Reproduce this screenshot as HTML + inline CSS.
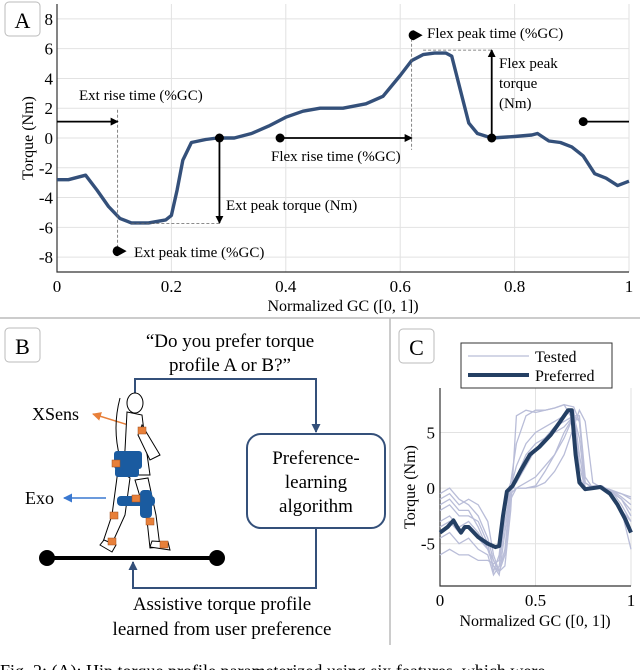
<!DOCTYPE html>
<html><head><meta charset="utf-8">
<style>
html,body{margin:0;padding:0;background:#fff;}
svg{display:block;font-family:"Liberation Serif",serif;}
</style></head>
<body>
<svg id="fig" width="640" height="670" viewBox="0 0 640 670" xmlns="http://www.w3.org/2000/svg">
<defs>
<marker id="ah" markerWidth="8" markerHeight="8" refX="7" refY="4" orient="auto" markerUnits="userSpaceOnUse"><path d="M0,0 L8,4 L0,8 z" fill="#000"/></marker>
<marker id="ahb" markerWidth="9" markerHeight="9" refX="8" refY="4.5" orient="auto" markerUnits="userSpaceOnUse"><path d="M0,0 L9,4.5 L0,9 z" fill="#34507a"/></marker>
<marker id="aho" markerWidth="9" markerHeight="9" refX="8" refY="4.5" orient="auto" markerUnits="userSpaceOnUse"><path d="M0,0 L9,4.5 L0,9 z" fill="#e8803a"/></marker>
<marker id="ahl" markerWidth="9" markerHeight="9" refX="8" refY="4.5" orient="auto" markerUnits="userSpaceOnUse"><path d="M0,0 L9,4.5 L0,9 z" fill="#3a78d0"/></marker>
</defs>
<g id="panelA"></g>
<g id="panelC"></g>

<line x1="0" y1="318" x2="640" y2="318" stroke="#bbb" stroke-width="1.5"/>
<line x1="390" y1="318" x2="390" y2="645" stroke="#bbb" stroke-width="1.5"/>

<g>
<rect x="5" y="328" width="35" height="34" rx="4" fill="#fff" stroke="#bbb"/>
<text x="22.5" y="354" font-size="22" text-anchor="middle">B</text>
<text x="230" y="347" font-size="19" text-anchor="middle">“Do you prefer torque</text>
<text x="230" y="371" font-size="19" text-anchor="middle">profile A or B?”</text>
<polyline points="135,393 135,379 316,379 316,432" fill="none" stroke="#34507a" stroke-width="2" marker-end="url(#ahb)"/>
<rect x="247" y="434" width="138" height="94" rx="14" fill="#fff" stroke="#34507a" stroke-width="2"/>
<text x="316" y="464" font-size="19" text-anchor="middle">Preference-</text>
<text x="316" y="488" font-size="19" text-anchor="middle">learning</text>
<text x="316" y="512" font-size="19" text-anchor="middle">algorithm</text>
<polyline points="316,528 316,588 133,588 133,562" fill="none" stroke="#34507a" stroke-width="2" marker-end="url(#ahb)"/>
<line x1="47" y1="558" x2="217" y2="558" stroke="#000" stroke-width="4"/>
<circle cx="47" cy="558" r="8" fill="#000"/>
<circle cx="217" cy="558" r="8" fill="#000"/>
<text x="222" y="610" font-size="19" text-anchor="middle">Assistive torque profile</text>
<text x="222" y="635" font-size="19" text-anchor="middle">learned from user preference</text>
<text x="32" y="420" font-size="18">XSens</text>
<line x1="138" y1="428" x2="93" y2="414" stroke="#e8803a" stroke-width="1.5" marker-end="url(#aho)"/>
<text x="25" y="504" font-size="18">Exo</text>
<line x1="106" y1="498" x2="64" y2="498" stroke="#3a78d0" stroke-width="1.5" marker-end="url(#ahl)"/>
<g stroke="#000" stroke-width="1" fill="#fff">
<ellipse cx="135" cy="403" rx="8" ry="10"/>
<path d="M120,398 q-8,30 0,60" fill="none"/>
<path d="M127,412 L125,450 L122,475 L150,475 L145,440 L142,415 z"/>
<path d="M142,425 L160,455 L150,460 L138,435 z"/>
<path d="M118,470 L112,515 L102,545 L110,548 L125,515 L130,478 z"/>
<path d="M135,480 L147,520 L150,548 L160,547 L156,515 L148,478 z"/>
<path d="M100,545 L112,552 L116,545 L104,540 z"/>
<path d="M150,547 L170,550 L168,542 L152,541 z"/>
</g>
<g fill="#1a5ba0">
<rect x="114" y="451" width="28" height="18" rx="3"/>
<rect x="115" y="467" width="24" height="10" rx="3"/>
<rect x="117" y="496" width="38" height="10" rx="4"/>
<rect x="140" y="490" width="12" height="28" rx="4"/>
<rect x="115" y="451" width="8" height="20" rx="3"/>
</g>
<g fill="#e8803a" stroke="#a05020" stroke-width="0.5">
<rect x="138" y="427" width="8" height="7"/>
<rect x="112" y="460" width="8" height="7"/>
<rect x="132" y="495" width="8" height="7"/>
<rect x="110" y="512" width="8" height="7"/>
<rect x="146" y="518" width="8" height="7"/>
<rect x="108" y="538" width="8" height="7"/>
<rect x="160" y="541" width="8" height="7"/>
</g>
</g>

<text x="0" y="677" font-size="18">Fig. 2: (A): Hip torque profile parameterized using six features, which were</text>

<script>
var aX = [0,0.02,0.05,0.07,0.09,0.11,0.13,0.16,0.19,0.2,0.21,0.22,0.235,0.26,0.28,0.31,0.34,0.37,0.4,0.43,0.46,0.5,0.54,0.57,0.6,0.62,0.64,0.66,0.68,0.69,0.7,0.71,0.72,0.735,0.76,0.8,0.83,0.84,0.86,0.88,0.9,0.92,0.94,0.96,0.98,1.0];
var aY = [-2.8,-2.8,-2.5,-3.5,-4.6,-5.4,-5.7,-5.7,-5.5,-5.2,-3.5,-1.5,-0.3,-0.1,0,0,0.3,0.8,1.4,1.8,2.0,2.0,2.3,2.8,4.2,5.2,5.6,5.7,5.7,5.5,4.0,2.5,1.0,0.3,0.0,0.1,0.2,0.3,-0.2,-0.3,-0.6,-1.2,-2.4,-2.7,-3.2,-2.9];
var aXTicks = [0,0.2,0.4,0.6,0.8,1];
var aXTickLabels = ["0","0.2","0.4","0.6","0.8","1"];
var aYTicks = [-8,-6,-4,-2,0,2,4,6,8];
var aYTickLabels = ["-8","-6","-4","-2","0","2","4","6","8"];

var cX = [0,0.04,0.07,0.09,0.11,0.13,0.15,0.2,0.25,0.29,0.31,0.33,0.35,0.38,0.42,0.47,0.52,0.58,0.63,0.67,0.69,0.71,0.73,0.76,0.8,0.84,0.89,0.93,0.97,1.0];
var cPreferred = [-4,-3.5,-2.9,-3.5,-4.0,-3.5,-3.5,-4.4,-5.0,-5.3,-5.2,-2.5,-0.3,0.2,1.5,3.0,3.7,4.8,6.0,7.0,7.0,3.0,0.5,-0.1,0,0.1,-0.5,-1.5,-2.8,-4.0];
var tX = [0,0.05,0.1,0.15,0.2,0.25,0.28,0.31,0.34,0.37,0.4,0.45,0.5,0.55,0.6,0.65,0.7,0.73,0.76,0.8,0.85,0.9,0.95,1.0];
var tested1 = [-1,-0.5,-1.5,-1,-1.5,-3,-6,-7.5,-7,-2,6.5,7,6.8,7,7.2,7.5,7.3,6,0.5,0,0,-0.3,-0.5,-0.8];
var tested2 = [-3,-2.5,-3.5,-3,-4,-5.5,-7,-7.8,-4,0,2,4,5,5.5,6,6.5,7,3,0,0.2,0.2,-0.5,-2,-5.5];
var tested3 = [-0.5,0,-1,-1.5,-2.5,-4.5,-6.5,-7.5,-6,-1,0,0,0.2,1.5,3,5,6.5,6,0.5,0,0.1,-0.2,-0.5,-1];
var tested4 = [-6,-5.5,-6,-6,-6.5,-6.5,-6.8,-6.5,-2,0,0.5,2,3.5,4.5,5.5,6,6.5,2,0,0.1,0.1,-0.3,-1.5,-3];
var tested5 = [-2,-1.5,-2.5,-2.5,-3,-5,-7.5,-6,-1,0.5,4,6.5,7,7,7.2,7.5,6,1,0,0,0.1,-0.2,-0.8,-1.5];
var tested6 = [-4.5,-4,-5,-4.5,-5.5,-6,-7.8,-7,-3,0,0,0,0.1,0.5,1.5,3,5.5,7,6,0.5,0,-0.5,-2,-3];
var tested7 = [-1.5,-1,-2,-2,-3.5,-5.5,-7,-7.5,-5.5,0,1,3,4,4.5,5,5.5,6.5,4.5,0,0.1,0,-0.3,-1,-2];
var tested8 = [-3.5,-3,-4,-3.5,-4.5,-5.5,-6.5,-7.5,-6,-0.5,0,0.5,1,2,3,4.5,6.5,6.5,1,0,0,-0.4,-1,-2.5];
var testedSeries = [tested1,tested2,tested3,tested4,tested5,tested6,tested7,tested8];
var cXTicks = [0,0.5,1];
var cXTickLabels = ["0","0.5","1"];
var cYTicks = [-5,0,5];
var cYTickLabels = ["-5","0","5"];

var NS = "http://www.w3.org/2000/svg";
function mk(parent, tag, attrs) {
  var e = document.createElementNS(NS, tag);
  for (var k in attrs) e.setAttribute(k, attrs[k]);
  parent.appendChild(e);
  return e;
}
function lin(d0, d1, r0, r1) { return function (v) { return r0 + (v - d0) / (d1 - d0) * (r1 - r0); }; }
function pathOf(xs, ys, sx, sy) {
  var d = "";
  for (var i = 0; i < xs.length; i++) d += (i ? "L" : "M") + sx(xs[i]).toFixed(1) + "," + sy(ys[i]).toFixed(1);
  return d;
}

(function () {
  var g = document.getElementById("panelA");
  var L = 57, R = 629, T = 4, B = 272;
  var sx = lin(0, 1, L, R), sy = lin(-9, 9, B, T);
  var i, e;
  for (i = 0; i < aXTicks.length; i++) {
    e = mk(g, "line", {x1: sx(aXTicks[i]), x2: sx(aXTicks[i]), y1: T, y2: B, stroke: "#e2e2e2", "stroke-width": 1});
    
    
    e = mk(g, "text", {x: sx(aXTicks[i]), y: 292, "font-size": 17, "text-anchor": "middle"});
    e.textContent = aXTickLabels[i];
    
    
  }
  for (i = 0; i < aYTicks.length; i++) {
    e = mk(g, "line", {x1: L, x2: R, y1: sy(aYTicks[i]), y2: sy(aYTicks[i]), stroke: "#e2e2e2", "stroke-width": 1});
    
    
    e = mk(g, "text", {x: 53, y: sy(aYTicks[i]) + 6, "font-size": 17, "text-anchor": "end"});
    e.textContent = aYTickLabels[i];
    
    
  }
  e = mk(g, "path", {d: "M" + L + "," + T + "V" + B + "H" + R, fill: "none", stroke: "#333", "stroke-width": 1.2});
  
  
  e = mk(g, "text", {x: 343, y: 311, "font-size": 16, "text-anchor": "middle"});
  e.textContent = "Normalized GC ([0, 1])";
  
  
  e = mk(g, "text", {x: 0, y: 0, "font-size": 16, "text-anchor": "middle", transform: "translate(33,138) rotate(-90)"});
  e.textContent = "Torque (Nm)";
  
  
  e = mk(g, "rect", {x: 5, y: 2, width: 35, height: 34, rx: 4, fill: "#fff", stroke: "#bbb"});
  
  
  e = mk(g, "text", {x: 22.5, y: 28, "font-size": 22, "text-anchor": "middle"});
  e.textContent = "A";
  
  

  e = mk(g, "path", {d: pathOf(aX, aY, sx, sy), fill: "none", stroke: "#34507a", "stroke-width": 3.4, "stroke-linejoin": "round"});
  
  

  function dash(x1, y1, x2, y2, nm) {
    var l = mk(g, "line", {x1: x1, y1: y1, x2: x2, y2: y2, stroke: "#666", "stroke-width": 0.8, "stroke-dasharray": "3,2"});
    
    
  }
  function arrow(x1, y1, x2, y2, nm) {
    var l = mk(g, "line", {x1: x1, y1: y1, x2: x2, y2: y2, stroke: "#000", "stroke-width": 1.8, "marker-end": "url(#ah)"});
    
    
  }
  function dot(x, y, nm) {
    var c = mk(g, "circle", {cx: x, cy: y, r: 4.5, fill: "#000"});
    
    
  }
  function drop(x, y, nm) {
    var p = mk(g, "path", {d: "M" + (x - 5) + "," + y + " a5,5 0 0,1 5,-5 L" + (x + 9) + "," + y + " L" + x + "," + (y + 5) + " a5,5 0 0,1 -5,-5 z", fill: "#000"});
    
    
  }
  function label(x, y, t, nm) {
    var tx = mk(g, "text", {x: x, y: y, "font-size": 15});
    tx.textContent = t;
    
    
  }
  var y0 = sy(0), yr = sy(1.1);
  dash(sx(0.106), sy(1.9), sx(0.106), sy(-7.6), 'ext-rise-guide');
  dash(sx(0.13), sy(-5.75), sx(0.284), sy(-5.75), 'ext-peak-guide');
  dash(sx(0.62), sy(7.0), sx(0.62), sy(-0.8), 'flex-rise-guide');
  dash(sx(0.64), sy(5.9), sx(0.76), sy(5.9), 'flex-peak-guide');
  arrow(L, yr, sx(0.106), yr, 'ext-rise-arrow');
  label(79, 100, "Ext rise time (%GC)", 'ext-rise-label');
  drop(sx(0.106), sy(-7.6), 'ext-peak-time-marker');
  label(134, 257, "Ext peak time (%GC)", 'ext-peak-time-label');
  dot(sx(0.284), y0, 'ext-peak-torque-dot');
  arrow(sx(0.284), y0, sx(0.284), sy(-5.7), 'ext-peak-torque-arrow');
  label(226, 210, "Ext peak torque (Nm)", 'ext-peak-torque-label');
  dot(sx(0.39), y0, 'flex-rise-dot');
  arrow(sx(0.39), y0, sx(0.62), y0, 'flex-rise-arrow');
  label(271, 161, "Flex rise time (%GC)", 'flex-rise-label');
  drop(sx(0.62) + 2, sy(6.9), 'flex-peak-time-marker');
  label(427, 38, "Flex peak time (%GC)", 'flex-peak-time-label');
  dot(sx(0.76), y0, 'flex-peak-torque-dot');
  arrow(sx(0.76), y0, sx(0.76), sy(5.9), 'flex-peak-torque-arrow');
  label(499, 68, "Flex peak", 'flex-peak-torque-label-1');
  label(499, 88, "torque", 'flex-peak-torque-label-2');
  label(499, 108, "(Nm)", 'flex-peak-torque-label-3');
  dot(sx(0.92), yr, 'flex-end-dot');
  e = mk(g, "line", {x1: sx(0.92), y1: yr, x2: R, y2: yr, stroke: "#000", "stroke-width": 1.8});
  
  
})();

(function () {
  var g = document.getElementById("panelC");
  var L = 440, R = 631, T = 388, B = 586;
  var sx = lin(0, 1, L, R), sy = lin(-8.8, 9, B, T);
  var i, e;
  for (i = 0; i < cXTicks.length; i++) {
    e = mk(g, "line", {x1: sx(cXTicks[i]), x2: sx(cXTicks[i]), y1: T, y2: B, stroke: "#e2e2e2", "stroke-width": 1});
    
    
    e = mk(g, "text", {x: sx(cXTicks[i]), y: 606, "font-size": 17, "text-anchor": "middle"});
    e.textContent = cXTickLabels[i];
    
    
  }
  for (i = 0; i < cYTicks.length; i++) {
    e = mk(g, "line", {x1: L, x2: R, y1: sy(cYTicks[i]), y2: sy(cYTicks[i]), stroke: "#e2e2e2", "stroke-width": 1});
    
    
    e = mk(g, "text", {x: 435, y: sy(cYTicks[i]) + 6, "font-size": 17, "text-anchor": "end"});
    e.textContent = cYTickLabels[i];
    
    
  }
  e = mk(g, "path", {d: "M" + L + "," + T + "V" + B + "H" + R, fill: "none", stroke: "#333", "stroke-width": 1.2});
  
  
  for (i = 0; i < testedSeries.length; i++) {
    e = mk(g, "path", {d: pathOf(tX, testedSeries[i], sx, sy), fill: "none", stroke: "#b9bdd8", "stroke-width": 1.3});
    
    
  }
  e = mk(g, "path", {d: pathOf(cX, cPreferred, sx, sy), fill: "none", stroke: "#243f63", "stroke-width": 4, "stroke-linejoin": "round"});
  
  
  e = mk(g, "text", {x: 535, y: 626, "font-size": 16, "text-anchor": "middle"});
  e.textContent = "Normalized GC ([0, 1])";
  
  
  e = mk(g, "text", {x: 0, y: 0, "font-size": 16, "text-anchor": "middle", transform: "translate(415,487) rotate(-90)"});
  e.textContent = "Torque (Nm)";
  
  
  e = mk(g, "rect", {x: 399, y: 329, width: 35, height: 34, rx: 4, fill: "#fff", stroke: "#bbb"});
  
  
  e = mk(g, "text", {x: 416.5, y: 355, "font-size": 22, "text-anchor": "middle"});
  e.textContent = "C";
  
  
  var lg = mk(g, "g", {});
  
  
  e = mk(lg, "rect", {x: 461, y: 343, width: 151, height: 45, fill: "#fff", stroke: "#333", "stroke-width": 1});
  
  
  e = mk(lg, "line", {x1: 468, y1: 356, x2: 529, y2: 356, stroke: "#b9bdd8", "stroke-width": 1.3});
  
  
  e = mk(lg, "text", {x: 535, y: 362, "font-size": 16});
  e.textContent = "Tested";
  
  
  e = mk(lg, "line", {x1: 468, y1: 375, x2: 529, y2: 375, stroke: "#243f63", "stroke-width": 4});
  
  
  e = mk(lg, "text", {x: 535, y: 381, "font-size": 16});
  e.textContent = "Preferred";
  
  
})();
</script>
</svg>
</body></html>
